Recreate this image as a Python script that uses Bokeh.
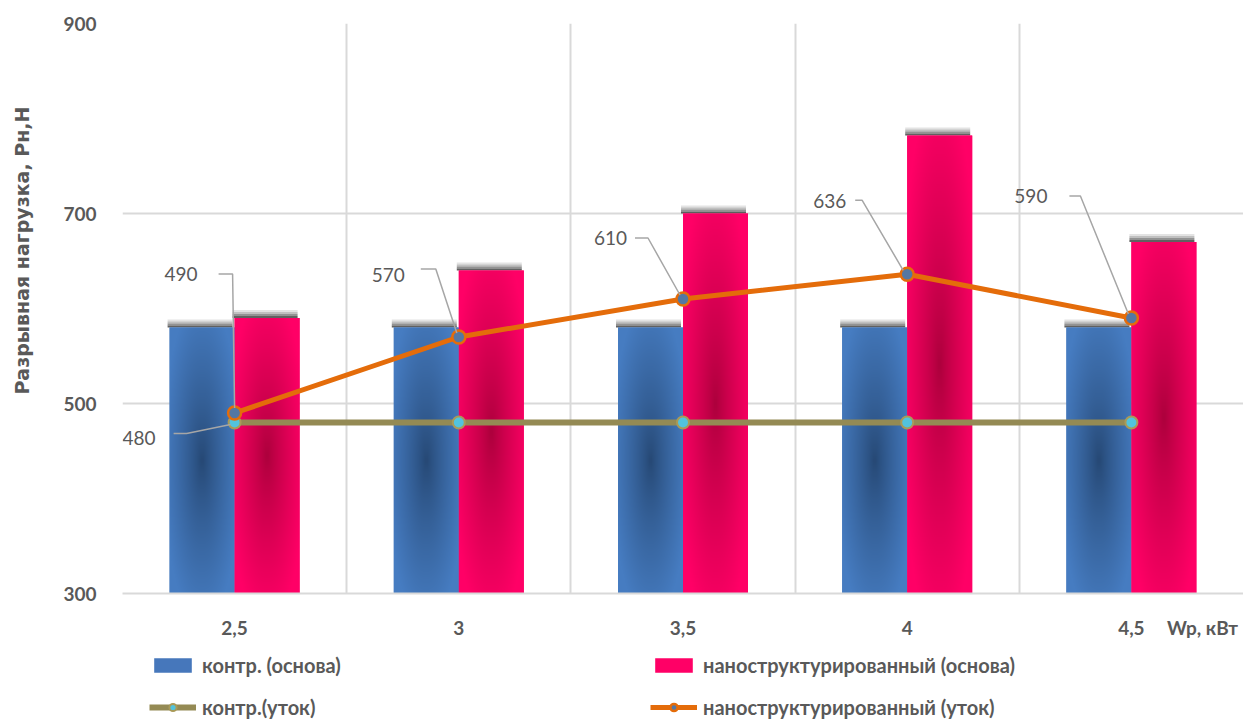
import numpy as np
from math import pi
from bokeh.plotting import figure
from bokeh.layouts import row, column
from bokeh.models import Range1d, FixedTicker, Label, Legend, LegendItem
from bokeh.embed import file_html
from bokeh.resources import INLINE

# --- data -------------------------------------------------------------
power = ["2,5", "3", "3,5", "4", "4,5"]          # Wp, кВт
kontr_osnova = [580, 580, 580, 580, 580]          # контр. (основа)
nano_osnova = [590, 640, 700, 782, 670]           # наноструктурированный (основа)
kontr_utok = [480, 480, 480, 480, 480]            # контр.(уток)
nano_utok = [490, 570, 610, 636, 590]             # наноструктурированный (уток)
y_ticks = [300, 500, 700, 900]

# --- layout -----------------------------------------------------------
W, H = 1243, 719
YLAB_W = 60                    # strip holding the vertical axis title
LEFT, TOP, BOTTOM = 122 - YLAB_W, 23, 56
MAIN_W, MAIN_H = W - YLAB_W, 593 + BOTTOM
LEG_H = H - MAIN_H             # strip holding the legend
FW, FH = MAIN_W - LEFT, MAIN_H - TOP - BOTTOM
Y0, Y1 = 300, 900
XPX = FW / len(power)          # pixels per category
YPX = FH / (Y1 - Y0)           # pixels per newton
BW = 65 / XPX                  # bar width in category units

FONT = "Lato"
GREY = "#595959"
GRID = "#d9d9d9"

centers = [i + 0.5 for i in range(len(power))]
x_blue = [c - BW / 2 for c in centers]
x_pink = [c + BW / 2 for c in centers]
unit_pos = (1202 - 122) / XPX  # where the unit caption sits on the x axis

p = figure(width=MAIN_W, height=MAIN_H, x_range=Range1d(0, len(power)), y_range=Range1d(Y0, Y1),
           output_backend="svg", toolbar_location=None,
           min_border_left=LEFT, min_border_right=0,
           min_border_top=TOP, min_border_bottom=BOTTOM)
p.outline_line_color = None
p.background_fill_color = "white"

# grid
p.xgrid.ticker = FixedTicker(ticks=list(range(len(power) + 1)))
p.ygrid.ticker = FixedTicker(ticks=y_ticks)
for g in (p.xgrid, p.ygrid):
    g.grid_line_color = GRID
    g.grid_line_width = 2

# axes
p.xaxis.ticker = FixedTicker(ticks=centers + [unit_pos])
labels = {c: lab for c, lab in zip(centers, power)}
labels[unit_pos] = "Wp, кВт"
p.xaxis.major_label_overrides = labels
p.yaxis.ticker = FixedTicker(ticks=y_ticks)
for ax in (p.xaxis, p.yaxis):
    ax.major_tick_line_color = None
    ax.minor_tick_line_color = None
    ax.major_label_text_font = FONT
    ax.major_label_text_font_style = "bold"
    ax.major_label_text_font_size = "19px"
    ax.major_label_text_color = GREY
p.xaxis.axis_line_color = GRID
p.xaxis.axis_line_width = 2
p.yaxis.axis_line_color = None
p.xaxis.major_label_standoff = 16
p.yaxis.major_label_standoff = 20


def radial(edge, center, nx=64, ny=256):
    xs = np.linspace(-1, 1, nx)
    ys = np.linspace(-1, 1, ny)
    X, Y = np.meshgrid(xs, ys)
    t = np.clip(np.sqrt(X ** 2 + Y ** 2) / 1.2, 0, 1) ** 0.8
    e = np.array(edge, float)
    c = np.array(center, float)
    rgb = c[None, None, :] * (1 - t[..., None]) + e[None, None, :] * t[..., None]
    img = np.empty((ny, nx), dtype=np.uint32)
    v = img.view(dtype=np.uint8).reshape((ny, nx, 4))
    v[..., :3] = rgb.astype(np.uint8)
    v[..., 3] = 255
    return img


BLUE_EDGE, BLUE_MID = (70, 124, 193), (38, 72, 116)
PINK_EDGE, PINK_MID = (255, 0, 102), (172, 0, 60)


def shadows(xs, tops):
    # soft drop shadow above the top of each bar
    for k, a in enumerate([0.8, 0.55, 0.32, 0.14]):
        p.quad(left=[x - BW / 2 - 2 / XPX for x in xs], right=[x + BW / 2 - 2 / XPX for x in xs],
               bottom=[t + (2 * k) / YPX for t in tops], top=[t + (2 * k + 2) / YPX for t in tops],
               fill_color="#3a3a3a", fill_alpha=a, line_color=None)


shadows(x_blue, kontr_osnova)
shadows(x_pink, nano_osnova)

BAR_BLUE, BAR_PINK = "#4677bb", "#ff0066"
p.vbar(x=x_blue, top=kontr_osnova, bottom=Y0, width=BW, fill_color=BAR_BLUE, line_color=None)
p.vbar(x=x_pink, top=nano_osnova, bottom=Y0, width=BW, fill_color=BAR_PINK, line_color=None)

p.image_rgba(image=[radial(BLUE_EDGE, BLUE_MID) for _ in power],
             x=[x - BW / 2 for x in x_blue], y=[Y0] * len(power),
             dw=[BW] * len(power), dh=[v - Y0 for v in kontr_osnova])
p.image_rgba(image=[radial(PINK_EDGE, PINK_MID) for _ in power],
             x=[x - BW / 2 for x in x_pink], y=[Y0] * len(power),
             dw=[BW] * len(power), dh=[v - Y0 for v in nano_osnova])

# lines
OLIVE = dict(line_color="#948a54", line_width=6)
OLIVE_PT = dict(size=12, fill_color="#52c3dd", line_color="#a99a58", line_width=2)
ORANGE = dict(line_color="#e46c0a", line_width=5)
ORANGE_PT = dict(size=13, fill_color="#5477a3", line_color="#e46c0a", line_width=2.5)

p.line(centers, kontr_utok, **OLIVE)
p.scatter(centers, kontr_utok, **OLIVE_PT)
p.line(centers, nano_utok, **ORANGE)
p.scatter(centers, nano_utok, **ORANGE_PT)

# data labels with leader lines (offsets in screen pixels from the point)
label_sets = [
    (centers, nano_utok,
     [(-37, 139), (-54, 62), (-56, 61), (-61, 73), (-84, 122)],
     [[(-16, 139), (-2, 139), (0, 5)],
      [(-38, 68), (-23, 68), (-2, 4)],
      [(-48, 61), (-35, 61), (-3, 4)],
      [(-52, 74), (-45, 74), (-4, 4)],
      [(-62, 122), (-51, 122), (-3, 4)]]),
    ([centers[0]], [kontr_utok[0]],
     [(-79, -15)],
     [[(-61, -11), (-48, -11), (-4, -2)]]),
]

for xs, vals, text_off, leaders in label_sets:
    lx, ly = [], []
    for x, v, (tx, ty), pts in zip(xs, vals, text_off, leaders):
        lx.append([x + dx / XPX for dx, dy in pts])
        ly.append([v + dy / YPX for dx, dy in pts])
        p.add_layout(Label(x=x, y=v, x_offset=tx, y_offset=ty, text=str(v),
                           text_font=FONT, text_font_size="19px", text_color=GREY,
                           text_align="right", text_baseline="middle"))
    p.multi_line(lx, ly, line_color="#a6a6a6", line_width=1.5)

# vertical axis title strip
t = figure(width=YLAB_W, height=MAIN_H, x_range=Range1d(0, YLAB_W), y_range=Range1d(0, MAIN_H),
           output_backend="svg", toolbar_location=None, min_border=0)
t.axis.visible = False
t.grid.visible = False
t.outline_line_color = None
t.add_layout(Label(x=21, y=MAIN_H - 251, text="Разрывная  нагрузка,  Рн,Н", angle=pi / 2,
                   text_font="DejaVu Sans", text_font_style="bold", text_font_size="19px",
                   text_color=GREY, text_align="center", text_baseline="middle"))

# legend strip (sample glyphs sit outside the visible range)
lg = figure(width=W, height=LEG_H, x_range=Range1d(0, W), y_range=Range1d(0, LEG_H),
            output_backend="svg", toolbar_location=None, min_border=0)
lg.axis.visible = False
lg.grid.visible = False
lg.outline_line_color = None
r_blue = lg.vbar(x=[-500], top=[-500], bottom=-600, width=1, fill_color=BAR_BLUE, line_color=None)
r_pink = lg.vbar(x=[-500], top=[-500], bottom=-600, width=1, fill_color=BAR_PINK, line_color=None)
r_ol = lg.line([-500, -490], [-500, -500], **OLIVE)
r_olp = lg.scatter([-500], [-500], **OLIVE_PT)
r_or = lg.line([-500, -490], [-500, -500], **ORANGE)
r_orp = lg.scatter([-500], [-500], **ORANGE_PT)


def make_legend(items, x):
    leg = Legend(items=items, location=(x, 0), orientation="vertical",
                 glyph_width=47, glyph_height=18, label_height=24, spacing=18,
                 padding=0, margin=0, label_standoff=6,
                 border_line_color=None, background_fill_alpha=0,
                 label_text_font=FONT, label_text_font_style="bold",
                 label_text_font_size="20px", label_text_color=GREY)
    lg.add_layout(leg)


make_legend([LegendItem(label="контр. (основа)", renderers=[r_blue]),
             LegendItem(label="контр.(уток)", renderers=[r_ol, r_olp])], 149)
make_legend([LegendItem(label="наноструктурированный (основа)", renderers=[r_pink]),
             LegendItem(label="наноструктурированный (уток)", renderers=[r_or, r_orp])], 650)

layout = column(row(t, p), lg)
open("out.html", "w").write(file_html(layout, INLINE))
